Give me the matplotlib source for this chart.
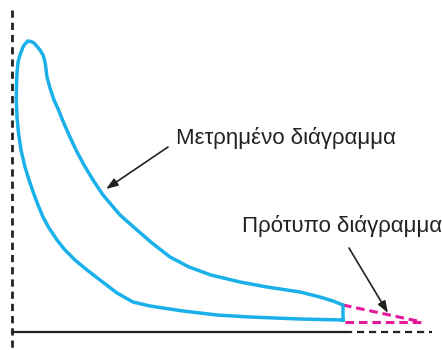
import matplotlib.pyplot as plt

# measured indicator diagram (loop), in picture units (y grows downward)
loop_x = [343, 300, 250, 217, 183, 150, 133, 117, 100, 87, 75, 65, 57, 49, 43, 38, 33.5, 29,
          25, 21, 18.5, 17, 16.3, 16.5, 17, 18, 20, 23, 25, 28, 31, 34, 40, 43, 44.5, 45.5, 47,
          50, 54, 58.5, 62.5, 69, 76, 84, 93, 103, 120,
          137, 152, 170, 189, 211, 240, 267, 300, 320, 333, 343, 343]
loop_y = [320, 319, 317, 315, 311, 306, 302, 293, 280, 270, 260, 250, 240, 228, 217, 205, 193, 180,
          167, 150, 133, 117, 100, 85, 73, 62, 55, 47, 44, 41, 41.5, 43, 50, 55, 60, 65, 77,
          88, 100, 110, 120, 135, 150, 165, 180, 195, 215,
          230, 243, 257, 267, 275, 282, 287, 292, 297, 301, 305, 320]

# standard diagram tail (dashed magenta)
std_upper_x = [343, 422]
std_upper_y = [305, 322]
std_lower_x = [345, 423]
std_lower_y = [321.5, 321.5]

# axes lines
vaxis_x = [12, 12]
vaxis_y = [10, 350]
haxis_solid_x = [12, 345]
haxis_dash_x = [345, 432]
haxis_y = 332

label_measured = 'Μετρημένο διάγραμμα'
label_standard = 'Πρότυπο διάγραμμα'

fig = plt.figure(figsize=(4.42, 3.5), dpi=100)
ax = fig.add_axes([0, 0, 1, 1])
ax.set_xlim(0, 442)
ax.set_ylim(350, 0)
ax.axis('off')

ink = '#222222'
blue = '#1ab0ea'
magenta = '#e3189b'

ax.plot(vaxis_x, vaxis_y, color=ink, lw=2.0, dashes=(2.6, 1.8))
ax.plot(haxis_solid_x, [haxis_y, haxis_y], color=ink, lw=1.6)
ax.plot(haxis_dash_x, [haxis_y, haxis_y], color=ink, lw=1.6, dashes=(3.2, 2.2))

ax.plot(std_upper_x, std_upper_y, color=magenta, lw=2.2, dashes=(2.8, 1.6))
ax.plot(std_lower_x, std_lower_y, color=magenta, lw=2.2, dashes=(2.8, 1.6))

ax.plot(loop_x, loop_y, color=blue, lw=2.5, solid_joinstyle='round')

font = ['Liberation Sans', 'DejaVu Sans']
ax.text(176, 138, label_measured, fontsize=16, family=font, color=ink, va='center', ha='left')
ax.text(242, 226, label_standard, fontsize=16, family=font, color=ink, va='center', ha='left')

arrow = dict(arrowstyle='-|>,head_length=0.7,head_width=0.25', color=ink, lw=1.2,
             shrinkA=0, shrinkB=0)
ax.annotate('', xy=(106, 189), xytext=(168, 147), arrowprops=arrow)
ax.annotate('', xy=(388, 313), xytext=(349, 248), arrowprops=arrow)

fig.savefig('out.png', dpi=100)
